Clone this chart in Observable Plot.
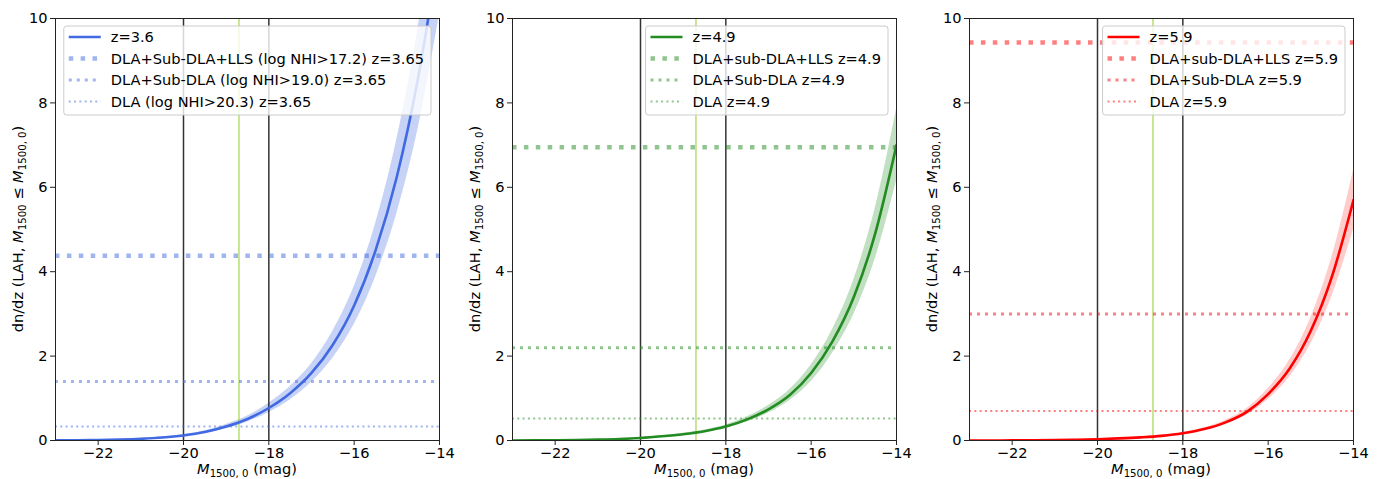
<!DOCTYPE html>
<html><head><meta charset="utf-8">
<script src="https://cdn.jsdelivr.net/npm/d3@7"></script>
<script src="https://cdn.jsdelivr.net/npm/@observablehq/plot@0.6"></script>
<style>
body{margin:0;background:#fff;font-family:"DejaVu Sans",sans-serif;}
#wrap{display:flex;width:1381px;height:479px;}
</style></head><body><div id="wrap"></div>
<script>
// absolute UV magnitude grid
const mags = [-23,-22.5,-22,-21.5,-21,-20.5,-20,-19.5,-19,-18.5,-18,-17.5,-17,-16.5,-16,-15.5,-15,-14.5,-14];

// z=3.6
const mid36 = [0.003,0.006,0.012,0.022,0.04,0.07,0.12,0.20,0.33,0.51,0.77,1.12,1.60,2.27,3.20,4.50,6.25,8.60,11.7];
const lo36  = [0.003,0.005,0.010,0.019,0.034,0.06,0.10,0.17,0.28,0.44,0.66,0.96,1.38,1.95,2.75,3.87,5.38,7.40,10.1];
const hi36  = [0.003,0.007,0.014,0.025,0.046,0.08,0.14,0.23,0.38,0.58,0.88,1.28,1.82,2.59,3.65,5.13,7.13,9.80,13.3];
const hlines36 = [4.38, 1.40, 0.33];
const legend36 = ["z=3.6","DLA+Sub-DLA+LLS (log NHI>17.2) z=3.65","DLA+Sub-DLA (log NHI>19.0) z=3.65","DLA (log NHI>20.3) z=3.65"];

// z=4.9
const mid49 = [0.001,0.002,0.005,0.01,0.02,0.035,0.06,0.10,0.15,0.22,0.33,0.50,0.74,1.08,1.60,2.35,3.40,4.90,7.00];
const lo49  = [0.001,0.002,0.004,0.009,0.018,0.031,0.053,0.088,0.13,0.19,0.29,0.44,0.65,0.95,1.40,2.07,2.99,4.30,6.15];
const hi49  = [0.001,0.002,0.006,0.011,0.022,0.039,0.067,0.112,0.17,0.25,0.37,0.56,0.83,1.21,1.79,2.63,3.81,5.50,7.85];
const hlines49 = [6.95, 2.20, 0.52];
const legend49 = ["z=4.9","DLA+sub-DLA+LLS z=4.9","DLA+Sub-DLA z=4.9","DLA z=4.9"];

// z=5.9
const mid59 = [0.0,0.001,0.002,0.005,0.01,0.018,0.03,0.05,0.075,0.11,0.17,0.27,0.43,0.68,1.10,1.70,2.60,3.90,5.70];
const lo59  = [0.0,0.001,0.002,0.004,0.009,0.016,0.026,0.044,0.066,0.097,0.15,0.24,0.38,0.60,0.97,1.50,2.29,3.43,5.00];
const hi59  = [0.0,0.001,0.002,0.006,0.011,0.020,0.034,0.056,0.084,0.123,0.19,0.30,0.48,0.76,1.23,1.90,2.91,4.37,6.40];
const hlines59 = [9.43, 3.00, 0.70];
const legend59 = ["z=5.9","DLA+sub-DLA+LLS z=5.9","DLA+Sub-DLA z=5.9","DLA z=5.9"];

const vlinesBlack = [-20, -18];
const vlineGreen = [-18.7];
const xTicks = [-22, -20, -18, -16, -14];
const yTicks = [0, 2, 4, 6, 8, 10];

const panels = [
  {mid: mid36, lo: lo36, hi: hi36, hl: hlines36, leg: legend36, color: "#4169e1", band: 0.3},
  {mid: mid49, lo: lo49, hi: hi49, hl: hlines49, leg: legend49, color: "#228b22", band: 0.28},
  {mid: mid59, lo: lo59, hi: hi59, hl: hlines59, leg: legend59, color: "#ff0000", band: 0.2}
];

const dotStyles = [{w: 4.5, d: "4.5,7.4"}, {w: 3, d: "3,5"}, {w: 2, d: "2,3.3"}];
const W = 457, H = 479, ML = 55, MR = 18, MT = 18, MB = 39;
const FS = 14.6, SUB = 10.2;
const fmt = d => (d < 0 ? "\u2212" + Math.abs(d) : String(d));

const wrap = document.getElementById("wrap");

for (const cfg of panels) {
  const rows = mags.map((m, i) => ({m, v: cfg.mid[i], lo: cfg.lo[i], hi: cfg.hi[i]}));
  const p = Plot.plot({
    width: W, height: H,
    marginLeft: ML, marginRight: MR, marginTop: MT, marginBottom: MB,
    style: {fontFamily: "DejaVu Sans", fontSize: FS + "px", color: "black", background: "white", overflow: "visible"},
    x: {domain: [-23, -14]},
    y: {domain: [0, 10]},
    marks: [
      Plot.areaY(rows, {x: "m", y1: "lo", y2: "hi", fill: cfg.color, fillOpacity: cfg.band, curve: "monotone-x", clip: true}),
      Plot.ruleX(vlinesBlack, {x: d => d, stroke: "#000000", strokeOpacity: 0.8, strokeWidth: 1.5}),
      Plot.ruleX(vlineGreen, {x: d => d, stroke: "#9acd32", strokeOpacity: 0.7, strokeWidth: 1.5}),
      ...cfg.hl.map((y, k) => Plot.ruleY([y], {stroke: cfg.color, strokeOpacity: 0.5, strokeWidth: dotStyles[k].w, strokeDasharray: dotStyles[k].d})),
      Plot.line(rows, {x: "m", y: "v", stroke: cfg.color, strokeWidth: 2.6, curve: "monotone-x", clip: true}),
      Plot.frame({stroke: "#222", strokeWidth: 1}),
      Plot.axisX(xTicks, {tickSize: 5, tickPadding: 2, fontSize: FS, label: null, stroke: "#222", tickFormat: fmt}),
      Plot.axisY(yTicks, {tickSize: 5, tickPadding: 3, fontSize: FS, label: null, stroke: "#222", tickFormat: fmt})
    ]
  });
  wrap.appendChild(p);
  const svg = d3.select(p);
  // true minus signs and font size on tick labels
  svg.selectAll("text").each(function () {
    const s = this.textContent;
    if (/^[-\u2010\u2011\u2012\u2013]\d/.test(s)) this.textContent = "\u2212" + s.slice(1);
    this.style.fontSize = FS + "px";
    this.style.fontFamily = "'DejaVu Sans'";
  });

  // x label
  const xl = svg.append("text").attr("x", ML + (W - ML - MR) / 2).attr("y", 474)
    .attr("text-anchor", "middle").attr("font-size", FS).attr("fill", "black");
  xl.append("tspan").attr("font-style", "italic").text("M");
  xl.append("tspan").attr("font-size", SUB).attr("dy", 3).text("1500, 0");
  xl.append("tspan").attr("dy", -3).text(" (mag)");

  // y label
  const yl = svg.append("text").attr("transform", `translate(23,${(MT + H - MB) / 2}) rotate(-90)`)
    .attr("text-anchor", "middle").attr("font-size", FS).attr("fill", "black");
  yl.append("tspan").text("dn/dz (LAH, ");
  yl.append("tspan").attr("font-style", "italic").text("M");
  yl.append("tspan").attr("font-size", SUB).attr("dy", 3).text("1500");
  yl.append("tspan").attr("dy", -3).text(" \u2264 ");
  yl.append("tspan").attr("font-style", "italic").text("M");
  yl.append("tspan").attr("font-size", SUB).attr("dy", 3).text("1500, 0");
  yl.append("tspan").attr("dy", -3).text(")");

  // legend
  const g = svg.append("g").attr("text-anchor", "start");
  const box = g.append("rect");
  const texts = [];
  cfg.leg.forEach((t, i) => {
    texts.push(g.append("text").attr("text-anchor", "start").attr("font-size", FS).attr("fill", "black")
      .attr("y", MT + 19 + i * 21.5 + 5).text(t));
  });
  const maxW = d3.max(texts, t => t.node().getComputedTextLength());
  const right = W - MR - 8;
  const left = right - (47 + maxW + 7);
  box.attr("x", left).attr("y", MT + 8).attr("width", right - left).attr("height", 89)
    .attr("rx", 3).attr("fill", "white").attr("fill-opacity", 0.8).attr("stroke", "#ccc").attr("stroke-width", 1);
  texts.forEach(t => t.attr("x", left + 47));
  cfg.leg.forEach((t, i) => {
    const yy = MT + 19 + i * 21.5;
    const ln = g.append("line").attr("x1", left + 5).attr("x2", left + 37).attr("y1", yy).attr("y2", yy)
      .attr("stroke", cfg.color);
    if (i === 0) ln.attr("stroke-width", 2.6);
    else ln.attr("stroke-width", dotStyles[i - 1].w).attr("stroke-dasharray", dotStyles[i - 1].d).attr("stroke-opacity", 0.5);
  });
}
</script></body></html>
